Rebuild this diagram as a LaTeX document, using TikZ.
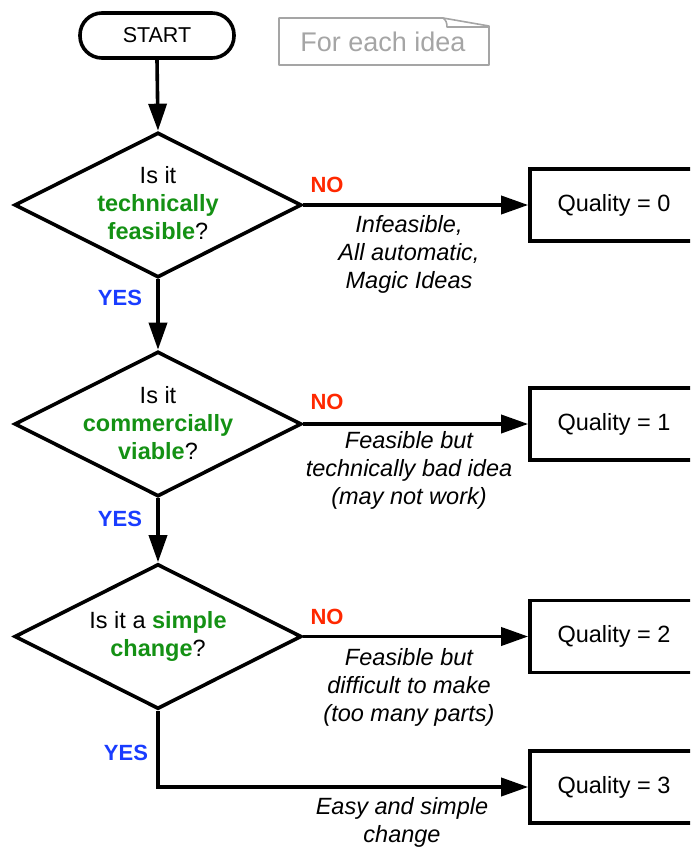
\documentclass[tikz,border=0pt]{standalone}
\usepackage{fontspec}
\setmainfont{Liberation Sans}
\usetikzlibrary{shapes.geometric,arrows.meta}
\definecolor{qgreen}{RGB}{20,145,20}
\definecolor{nored}{RGB}{255,40,0}
\definecolor{yesblue}{RGB}{25,60,255}
\definecolor{notegray}{RGB}{165,165,165}
\newcommand{\keyword}[1]{\textcolor{qgreen}{\textbf{#1}}}
\begin{document}
\begin{tikzpicture}[x=1pt,y=-1pt,
  every node/.style={font=\fontsize{23.5}{28}\selectfont},
  flow/.style={line width=3.6pt, -{Triangle[length=27pt,width=18pt]}},
  terminal/.style={draw, line width=3.6pt, rounded corners=22pt,
    minimum width=154pt, minimum height=45pt, inner sep=0pt,
    font=\fontsize{21.5}{25}\selectfont},
  decision/.style={draw, diamond, line width=3.6pt, minimum width=287pt,
    minimum height=145pt, inner sep=0pt},
  question/.style={align=center, inner sep=0pt},
  result/.style={draw, line width=3.6pt, minimum width=168pt,
    minimum height=72pt, inner sep=0pt},
  nolabel/.style={text=nored, inner sep=0pt, font=\bfseries\fontsize{22}{26}\selectfont},
  yeslabel/.style={text=yesblue, inner sep=0pt, font=\bfseries\fontsize{22}{26}\selectfont},
  reason/.style={align=center, inner sep=0pt, font=\itshape\fontsize{23.5}{28}\selectfont},
  memo/.style={text=notegray, inner sep=0pt, font=\fontsize{27}{32}\selectfont}
]
\useasboundingbox (0,0) rectangle (690,850);
\clip (0,0) rectangle (690,850);

% start and the loop note
\node[terminal] (start) at (157,35.5) {START};
\node[memo] (note) at (383,42) {For each idea};
\draw[notegray, line width=1.6pt, line join=round]
  (279,18) -- (443,18) -- (489,26) -- (489,65) -- (279,65) -- cycle;
\draw[notegray, line width=1.6pt, line join=round]
  (443,18) .. controls (446,20) and (447,23) .. (447,27) -- (489,27);

% decisions
\node[decision] (d1) at (158,205) {};
\node[question] (t1) at (158,203) {Is it\\\keyword{technically}\\\keyword{feasible}?};
\node[decision] (d2) at (158,424) {};
\node[question] (t2) at (158,423) {Is it\\\keyword{commercially}\\\keyword{viable}?};
\node[decision] (d3) at (158,636.5) {};
\node[question] (t3) at (158,636) {Is it a \keyword{simple}\\\keyword{change}?};

% outcomes
\node[result] (r0) at (614,205) {Quality = 0};
\node[result] (r1) at (614,424) {Quality = 1};
\node[result] (r2) at (614,636.5) {Quality = 2};
\node[result] (r3) at (614,787) {Quality = 3};

% connectors
\draw[flow] (start.south) -- (d1.north);
\draw[flow] (d1.south) -- (d2.north);
\draw[flow] (d2.south) -- (d3.north);
\draw[flow] (d1.east) -- (r0.west);
\draw[flow] (d2.east) -- (r1.west);
\draw[flow] (d3.east) -- (r2.west);
\draw[flow, line join=miter] (d3.south) |- (r3.west);

% branch labels
\node[nolabel] (n1) at (327,185) {NO};
\node[nolabel] (n2) at (327,402) {NO};
\node[nolabel] (n3) at (327,617) {NO};
\node[yeslabel] (y1) at (120,298) {YES};
\node[yeslabel] (y2) at (120,519) {YES};
\node[yeslabel] (y3) at (126,753) {YES};

% reasons
\node[reason] (e0) at (409,254) {Infeasible,\\All automatic,\\Magic Ideas};
\node[reason] (e1) at (409,470) {Feasible but\\technically bad idea\\(may not work)};
\node[reason] (e2) at (409,687) {Feasible but\\difficult to make\\(too many parts)};
\node[reason] (e3) at (402,822) {Easy and simple\\change};
\end{tikzpicture}
\end{document}
